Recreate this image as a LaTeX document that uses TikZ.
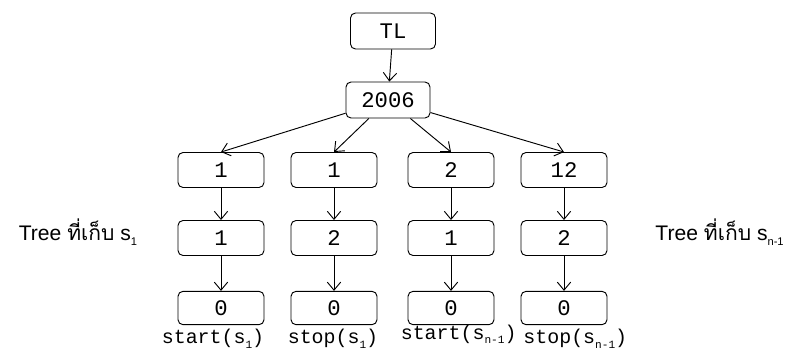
\documentclass[tikz,border=0pt]{standalone}
\usepackage{fontspec}
\setmainfont{Liberation Sans}
\setsansfont{Liberation Sans}
\setmonofont{Liberation Mono}
\newfontfamily\thaifont[Script=Thai]{Loma}
\usepackage{tikz}
\usetikzlibrary{shapes, arrows.meta}

\newcommand{\lowsub}[1]{\raisebox{-0.45ex}{\fontsize{9.5}{10}\selectfont #1}}

\tikzset{
  keybox/.style={rectangle, draw, rounded corners=0.15cm, line width=0.8pt,
    minimum width=2.58cm, minimum height=1.05cm, font=\ttfamily\fontsize{19}{22}\selectfont},
  keylabel/.style={inner sep=0pt, font=\ttfamily\fontsize{17}{20}\selectfont},
  treelabel/.style={inner sep=0pt, font=\fontsize{18}{22}\selectfont},
  >={Straight Barb[length=2.4mm,width=4mm]}
}

\begin{document}
\begin{tikzpicture}[line width=0.8pt]
		\useasboundingbox (0,0) rectangle (23.91,-10.53);
		\node at (11.79,-0.93) [keybox, minimum width=2.55cm, minimum height=1.08cm] (tl) {TL};
		\node at (11.64,-3.0) [keybox, minimum width=2.52cm, minimum height=1.08cm] (yr) {2006};
		\draw[->] (tl) -- (yr);
		% months
		\node at (6.63,-5.1) [keybox] (mon1) {1};
		\node at (10.02,-5.1) [keybox] (mon2) {1};
		\node at (13.53,-5.1) [keybox] (mon3) {2};
		\node at (16.92,-5.1) [keybox] (mon4) {12};
		\draw[->] (yr) -- (mon1.north);
		\draw[->] (yr) -- (mon2.north);
		\draw[->] (yr) -- (mon3.north);
		\draw[->] (yr) -- (mon4.north);
		% days
		\node at (6.63,-7.14) [keybox] (day1) {1};
		\node at (10.02,-7.14) [keybox] (day2) {2};
		\node at (13.53,-7.14) [keybox] (day3) {1};
		\node at (16.92,-7.14) [keybox] (day4) {2};
		\draw[->] (mon1) -- (day1);
		\draw[->] (mon2) -- (day2);
		\draw[->] (mon3) -- (day3);
		\draw[->] (mon4) -- (day4);
		% hours
		\node at (6.63,-9.24) [keybox, minimum height=1.0cm] (hr1) {0};
		\node at (10.02,-9.24) [keybox, minimum height=1.0cm] (hr2) {0};
		\node at (13.53,-9.24) [keybox, minimum height=1.0cm] (hr3) {0};
		\node at (16.92,-9.24) [keybox, minimum height=1.0cm] (hr4) {0};
		\draw[->] (day1) -- (hr1);
		\draw[->] (day2) -- (hr2);
		\draw[->] (day3) -- (hr3);
		\draw[->] (day4) -- (hr4);
		\node at (6.39,-10.17) [keylabel] (lab1) {start(s\lowsub{1})};
		\node at (9.99,-10.17) [keylabel] (lab2) {stop(s\lowsub{1})};
		\node at (13.76,-10.03) [keylabel] (lab3) {start(s\lowsub{n-1})};
		\node at (17.26,-10.17) [keylabel] (lab4) {stop(s\lowsub{n-1})};
		\node at (2.34,-6.96) [treelabel] (tree1) {Tree {\thaifont ที่เก็บ} s\lowsub{1}};
		\node at (19.65,-6.96) [treelabel, anchor=west] (tree2) {Tree {\thaifont ที่เก็บ} s\lowsub{n-1}};
\end{tikzpicture}
\end{document}
